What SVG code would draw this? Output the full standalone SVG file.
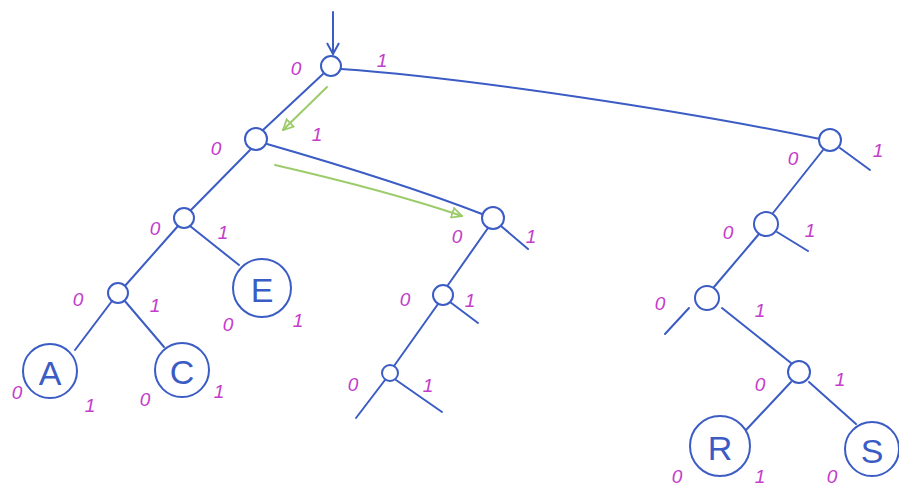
<svg xmlns="http://www.w3.org/2000/svg" width="899" height="489" viewBox="0 0 899 489">
<style>
.e{fill:none;stroke:#3b5cc4;stroke-width:2;stroke-linecap:round}
.n{fill:#fff;stroke:#3b5cc4;stroke-width:2}
.g{fill:none;stroke:#9ccc6a;stroke-width:2;stroke-linecap:round}
.b{font-family:"Liberation Sans",Arial,sans-serif;font-style:italic;font-size:19px;fill:#c43ccc;text-anchor:middle;dominant-baseline:central}
.L{font-family:"Liberation Sans",Arial,sans-serif;font-size:34px;fill:#3b5cc4;text-anchor:middle;dominant-baseline:central}
</style>
<defs>
<marker id="gh" viewBox="0 0 12 12" refX="11" refY="6" markerWidth="12" markerHeight="12" markerUnits="userSpaceOnUse" orient="auto"><path d="M1,1 L11,6 L1,11 Z" fill="none" stroke="#9ccc6a" stroke-width="1.8"/></marker>
<marker id="bh" viewBox="0 0 14 14" refX="12" refY="7" markerWidth="14" markerHeight="14" markerUnits="userSpaceOnUse" orient="auto"><path d="M1,1 L12,7 L1,13" fill="none" stroke="#3b5cc4" stroke-width="2"/></marker>
</defs>
<rect width="899" height="489" fill="#fff"/>
<g id="connectors">
<path class="e" d="M333,12 L333,54" marker-end="url(#bh)"/>
<path class="e" d="M323,74 L263,130"/>
<path class="e" d="M341,69 C470,78 690,112 820,139"/>
<path class="e" d="M250,150 L190,211"/>
<path class="e" d="M267,144 C340,165 420,190 482,214"/>
<path class="e" d="M178,226 L124,287"/>
<path class="e" d="M190,226 L239,265"/>
<path class="e" d="M112,301 L75,350"/>
<path class="e" d="M124,300 L164,347"/>
<path class="e" d="M488,228 L448,285"/>
<path class="e" d="M501,226 L528,249"/>
<path class="e" d="M438,304 L394,366"/>
<path class="e" d="M450,302 L478,323"/>
<path class="e" d="M385,380 L356,418"/>
<path class="e" d="M396,380 L442,412"/>
<path class="e" d="M823,150 L773,213"/>
<path class="e" d="M840,148 L870,170"/>
<path class="e" d="M759,234 L714,287"/>
<path class="e" d="M777,232 L808,251"/>
<path class="e" d="M689,308 L665,334"/>
<path class="e" d="M722,308 L791,363"/>
<path class="e" d="M791,382 L746,430"/>
<path class="e" d="M809,382 L856,424"/>
<path class="g" d="M327,87 L283,130" marker-end="url(#gh)"/>
<path class="g" d="M275,165 C340,180 400,195 462,216" marker-end="url(#gh)"/>
</g>
<g id="root"><circle class="n" cx="331" cy="66" r="10"/><text class="b" x="296" y="68">0</text><text class="b" x="382" y="60">1</text></g>
<g id="n0"><circle class="n" cx="256" cy="139" r="11"/><text class="b" x="216" y="148">0</text><text class="b" x="317" y="134">1</text></g>
<g id="n00"><circle class="n" cx="184" cy="218" r="10"/><text class="b" x="155" y="228">0</text><text class="b" x="223" y="232">1</text></g>
<g id="n000"><circle class="n" cx="118" cy="293" r="10"/><text class="b" x="78" y="299">0</text><text class="b" x="155" y="305">1</text></g>
<g id="A"><circle class="n" cx="50" cy="371" r="27"/><text class="L" x="50" y="373">A</text><text class="b" x="17" y="392">0</text><text class="b" x="90" y="405">1</text></g>
<g id="C"><circle class="n" cx="182" cy="370" r="27"/><text class="L" x="182" y="372">C</text><text class="b" x="145" y="399">0</text><text class="b" x="219" y="391">1</text></g>
<g id="E"><circle class="n" cx="262" cy="288" r="29"/><text class="L" x="262" y="290">E</text><text class="b" x="228" y="324">0</text><text class="b" x="298" y="320">1</text></g>
<g id="n01"><circle class="n" cx="493" cy="218" r="11"/><text class="b" x="457" y="236">0</text><text class="b" x="531" y="236">1</text></g>
<g id="n010"><circle class="n" cx="443" cy="295" r="10"/><text class="b" x="405" y="299">0</text><text class="b" x="470" y="300">1</text></g>
<g id="n0100"><circle class="n" cx="390" cy="373" r="8"/><text class="b" x="353" y="384">0</text><text class="b" x="428" y="385">1</text></g>
<g id="n1"><circle class="n" cx="830" cy="140" r="11"/><text class="b" x="793" y="158">0</text><text class="b" x="878" y="150">1</text></g>
<g id="n10"><circle class="n" cx="766" cy="224" r="12"/><text class="b" x="728" y="232">0</text><text class="b" x="810" y="230">1</text></g>
<g id="n100"><circle class="n" cx="707" cy="298" r="12"/><text class="b" x="660" y="303">0</text><text class="b" x="760" y="310">1</text></g>
<g id="n1001"><circle class="n" cx="799" cy="372" r="11"/><text class="b" x="760" y="384">0</text><text class="b" x="840" y="379">1</text></g>
<g id="R"><circle class="n" cx="720" cy="446" r="30"/><text class="L" x="720" y="448">R</text><text class="b" x="677" y="476">0</text><text class="b" x="760" y="476">1</text></g>
<g id="S"><circle class="n" cx="872" cy="449" r="27"/><text class="L" x="872" y="451">S</text><text class="b" x="832" y="476">0</text></g>
</svg>
